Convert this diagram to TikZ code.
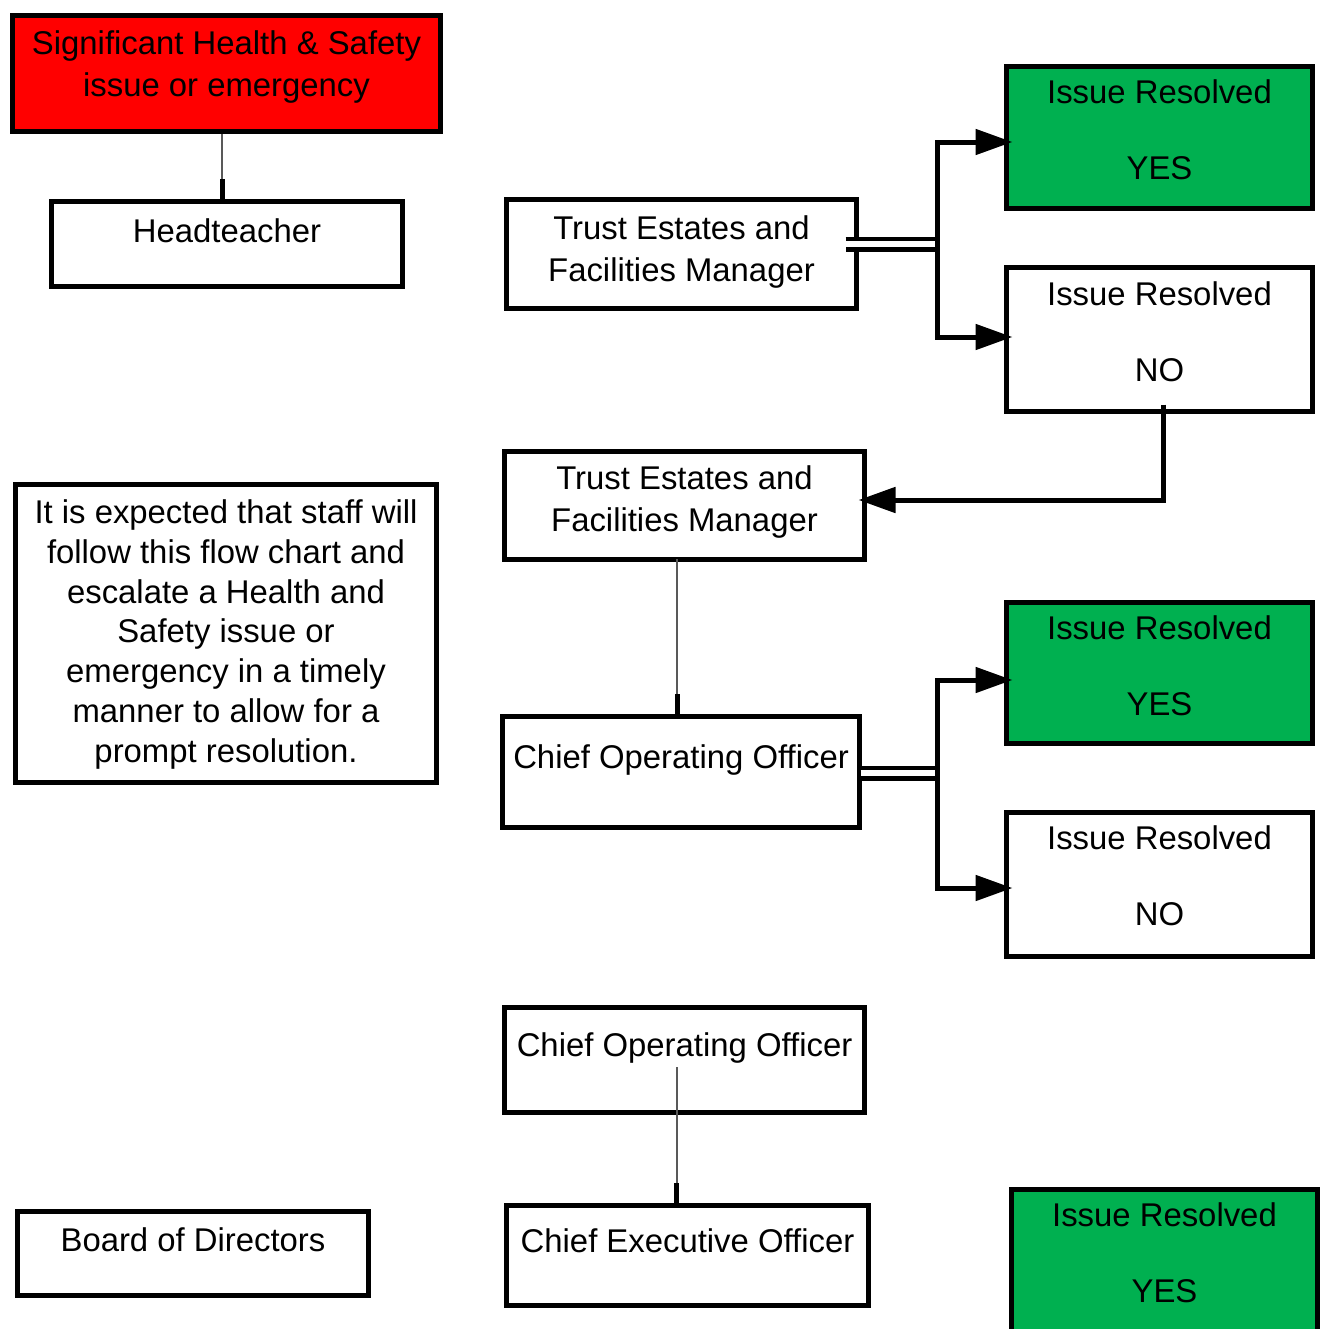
\documentclass[tikz,border=0pt]{standalone}
\usepackage{fontspec}
\setmainfont{Liberation Sans}
\usepackage{xcolor}
\usepackage{tikz}
\usetikzlibrary{arrows.meta}
\definecolor{hsred}{HTML}{FF0000}
\definecolor{hsgreen}{HTML}{00B050}

\begin{document}
\begin{tikzpicture}[
  box/.style={draw=black,line width=0.1cm,inner sep=0pt,align=center,anchor=base,
    font=\fontsize{18.7}{23.9}\selectfont},
  res/.style={box,minimum width=6.12cm,text height=2.25cm,
    font=\fontsize{18.7}{42.7}\selectfont},
  arr/.style={line width=0.1cm,-{Triangle[length=0.74cm,width=0.5cm]},shorten >=-0.17cm},
  dbl/.style={double,line width=0.09cm,double distance=0.12cm},
  stub/.style={draw=black!65,line width=0.04cm,-{Rectangle[length=0.4cm,width=0.1cm,color=black]}}]
\useasboundingbox (0,0) rectangle (26.46,-26.58);
\clip (0,0) rectangle (26.46,-26.58);
\node (1) at ( 4.53, -1.92) [box,fill=hsred,minimum width=8.56cm,text height=1.61cm,text depth=0.71cm] {Significant Health \& Safety\\issue or emergency};
\node (2) at ( 4.54, -4.84) [box,minimum width=7.02cm,text height=0.81cm,text depth=0.89cm] {Headteacher};
\node (3) at (13.63, -5.62) [box,minimum width=7.00cm,text height=1.63cm,text depth=0.55cm] {Trust Estates and\\Facilities Manager};
\node (4) at (23.19, -3.58) [res,fill=hsgreen,text depth=0.59cm] {Issue Resolved\\YES};
\node (5) at (23.19, -7.62) [res,text height=2.27cm,text depth=0.61cm] {Issue Resolved\\NO};
\node (6) at (13.69,-10.62) [box,minimum width=7.20cm,text height=1.59cm,text depth=0.57cm] {Trust Estates and\\Facilities Manager};
\node (7) at ( 4.52,-15.24) [box,minimum width=8.42cm,text height=5.55cm,text depth=0.41cm,font=\fontsize{18.7}{22.6}\selectfont] {It is expected that staff will\\follow this flow chart and\\escalate a Health and\\Safety issue or\\emergency in a timely\\manner to allow for a\\prompt resolution.};
\node (8) at (13.62,-15.36) [box,minimum width=7.14cm,text height=1.03cm,text depth=1.19cm] {Chief Operating Officer};
\node (9) at (23.19,-14.30) [res,fill=hsgreen,text depth=0.57cm] {Issue Resolved\\YES};
\node (10) at (23.19,-18.50) [res,text depth=0.63cm] {Issue Resolved\\NO};
\node (11) at (13.69,-21.12) [box,minimum width=7.20cm,text height=0.97cm,text depth=1.13cm] {Chief Operating Officer};
\node (12) at (13.75,-25.04) [box,minimum width=7.24cm,text height=0.93cm,text depth=1.07cm] {Chief Executive Officer};
\node (13) at ( 3.86,-25.02) [box,minimum width=7.02cm,text height=0.79cm,text depth=0.89cm] {Board of Directors};
\node (14) at (23.29,-26.04) [res,fill=hsgreen,text depth=0.96cm] {Issue Resolved\\YES};
\coordinate (b1) at (18.74, -4.88);
\coordinate (b2) at (18.74,-15.46);
\draw[stub]  ([xshift=-0.09cm]1.south) -- ([xshift=-0.09cm]1.south |- 2.north);
\draw[dbl]  ([xshift=-0.27cm]3.east |- b1) -- ([xshift=0.05cm]b1);
\draw[arr]  (b1) |- ([yshift=-0.09cm]4.west);
\draw[arr]  (b1) |- ([yshift=0.05cm]5.west);
\draw[arr]  ([xshift=0.07cm,yshift=0.19cm]5.south) |- ([yshift=0.11cm]6.east);
\draw[stub]  ([xshift=-0.15cm,yshift=0.06cm]6.south) -- ([xshift=-0.15cm]6.south |- 8.north);
\draw[dbl]  ([xshift=-0.03cm]8.east |- b2) -- ([xshift=0.05cm]b2);
\draw[arr]  (b2) |- ([yshift=-0.14cm]9.west);
\draw[arr]  (b2) |- ([yshift=-0.07cm]10.west);
\draw[stub]  ([xshift=-0.16cm,yshift=-0.22cm]11.base) -- ([xshift=-0.16cm]11.base |- 12.north);
\end{tikzpicture}
\end{document}
